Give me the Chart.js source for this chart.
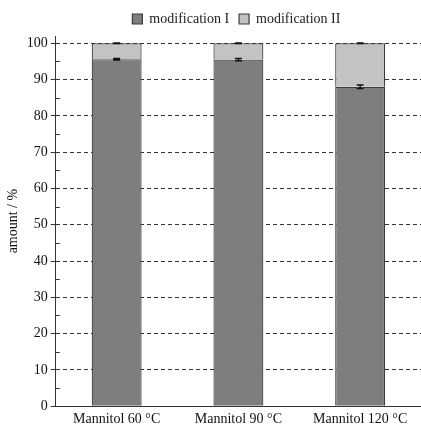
<!DOCTYPE html>
<html lang="en">
<head>
  <meta charset="UTF-8">
  <title>Mannitol modifications</title>
  <script src="https://cdn.jsdelivr.net/npm/chart.js"></script>
  <style>
    body { margin: 0; background: #fff; }
    #wrap { width: 421px; height: 425px; }
  </style>
</head>
<body>
<div id="wrap"><canvas id="chart"></canvas></div>
<script>
const categories = ['Mannitol 60 °C', 'Mannitol 90 °C', 'Mannitol 120 °C'];
const modI = [95.6, 95.5, 88.0];
const modII = [4.4, 4.5, 12.0];
const errI = [0.2, 0.3, 0.5];
const errII = [0.1, 0.1, 0.1];
const yTicks = [0, 10, 20, 30, 40, 50, 60, 70, 80, 90, 100];
const yMinor = [5, 15, 25, 35, 45, 55, 65, 75, 85, 95];

Chart.defaults.font.family = '"Liberation Serif", "DejaVu Serif", serif';
Chart.defaults.font.size = 14;
Chart.defaults.color = '#222';

// error bars on top of each stacked segment
const errorBars = {
  id: 'errorBars',
  afterDatasetsDraw(chart) {
    const ctx = chart.ctx;
    const y = chart.scales.y;
    const errs = [errI, errII];
    ctx.save();
    ctx.strokeStyle = '#111';
    ctx.lineWidth = 1.4;
    chart.data.datasets.forEach((ds, d) => {
      const meta = chart.getDatasetMeta(d);
      meta.data.forEach((bar, i) => {
        const top = bar.y;
        const e = errs[d][i];
        const val = y.getValueForPixel(top);
        const y1 = y.getPixelForValue(val + e);
        const y2 = y.getPixelForValue(val - e);
        ctx.beginPath();
        ctx.moveTo(bar.x, y1); ctx.lineTo(bar.x, y2);
        ctx.moveTo(bar.x - 3.5, y1); ctx.lineTo(bar.x + 3.5, y1);
        ctx.moveTo(bar.x - 3.5, y2); ctx.lineTo(bar.x + 3.5, y2);
        ctx.stroke();
      });
    });
    ctx.restore();
  }
};

// minor tick marks at the odd fives
const minorTicks = {
  id: 'minorTicks',
  afterDraw(chart) {
    const ctx = chart.ctx;
    const y = chart.scales.y;
    const x0 = chart.chartArea.left;
    ctx.save();
    ctx.strokeStyle = '#333';
    ctx.lineWidth = 1;
    yMinor.forEach(v => {
      const py = Math.round(y.getPixelForValue(v)) + 0.5;
      ctx.beginPath();
      ctx.moveTo(x0, py); ctx.lineTo(x0 + 4, py);
      ctx.stroke();
    });
    ctx.restore();
  }
};

// center the legend over the plot area instead of the canvas
const legendShift = {
  id: 'legendShift',
  afterLayout(chart) {
    const lg = chart.legend;
    const ca = chart.chartArea;
    const curCenter = (lg.left + lg.right) / 2;
    const dx = (ca.left + ca.right) / 2 - curCenter - 2;
    lg.left += dx; lg.right += dx;
    if (lg.legendHitBoxes) lg.legendHitBoxes.forEach(b => { b.left += dx; });
  }
};

new Chart(document.getElementById('chart'), {
  type: 'bar',
  data: {
    labels: categories,
    datasets: [
      { label: 'modification I', data: modI, backgroundColor: '#7e7e7e', borderColor: '#3c3c3c', borderWidth: 1.2 },
      { label: 'modification II', data: modII, backgroundColor: '#c3c3c3', borderColor: '#3c3c3c', borderWidth: 1.2 }
    ]
  },
  options: {
    responsive: true,
    maintainAspectRatio: false,
    animation: false,
    layout: { padding: { top: 2, right: 0, left: 3, bottom: -8 } },
    datasets: { bar: { categoryPercentage: 1, barPercentage: 0.41 } },
    plugins: {
      legend: {
        position: 'top',
        labels: { boxWidth: 10, boxHeight: 10, padding: 10, color: '#222' }
      },
      tooltip: { enabled: false }
    },
    scales: {
      x: {
        stacked: true,
        grid: { display: false, drawTicks: false },
        border: { display: true, color: '#333', width: 1 },
        ticks: { color: '#111', padding: 5 }
      },
      y: {
        stacked: true,
        min: 0,
        max: 102,
        afterBuildTicks: axis => { axis.ticks = yTicks.map(v => ({ value: v })); },
        ticks: { color: '#111', padding: 3 },
        grid: { color: '#333', lineWidth: 1, tickLength: 5, tickColor: '#333' },
        border: { display: true, color: '#333', width: 1, dash: [4, 3] },
        title: { display: true, text: 'amount / %', color: '#111', padding: 2 }
      }
    }
  },
  plugins: [errorBars, minorTicks, legendShift]
});
</script>
</body>
</html>
